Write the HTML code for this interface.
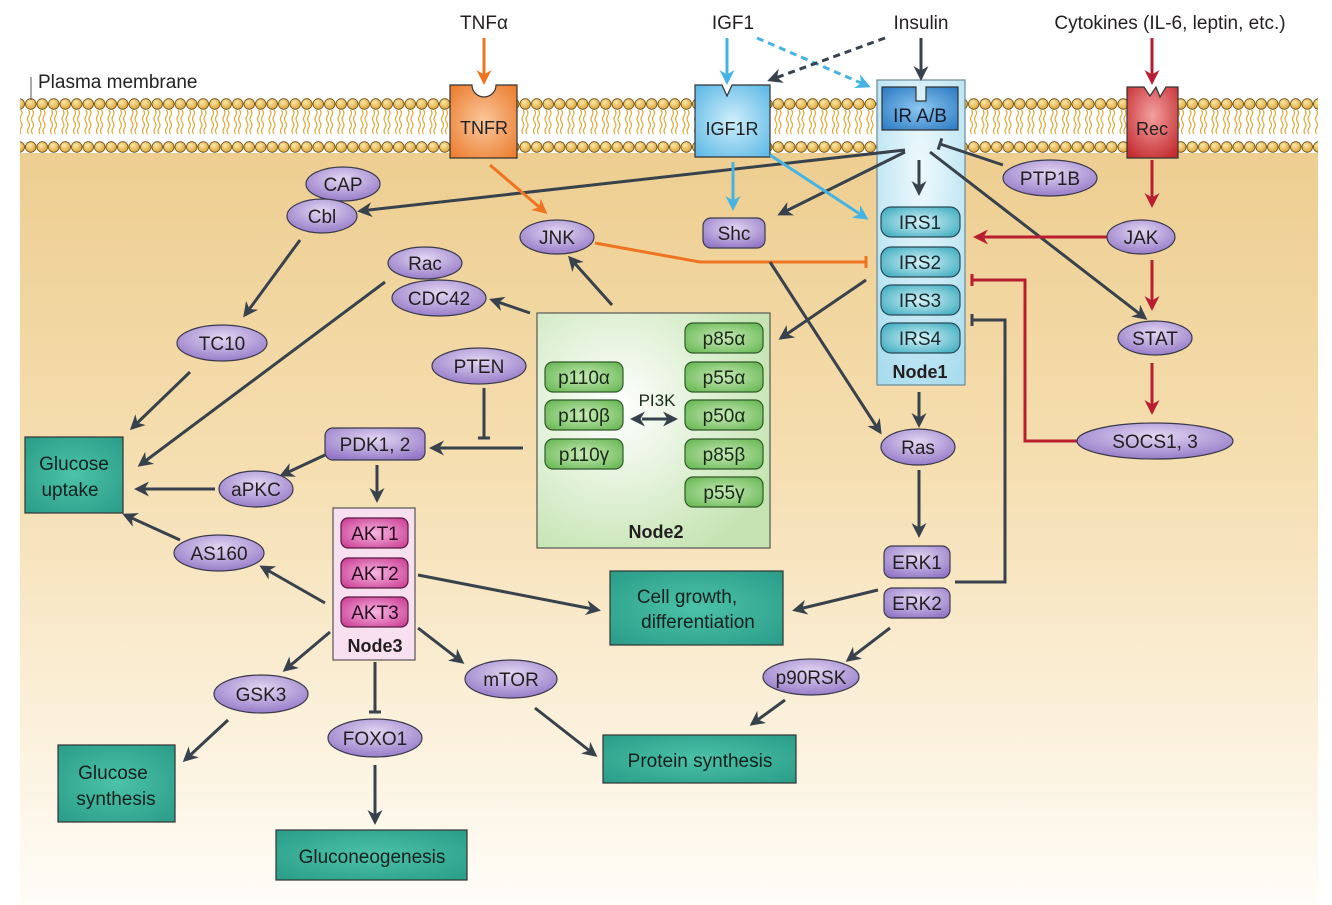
<!DOCTYPE html>
<html><head><meta charset="utf-8"><style>
html,body{margin:0;padding:0;background:#fff}
svg{display:block;font-family:"Liberation Sans","DejaVu Sans",sans-serif}
</style></head><body>
<svg width="1332" height="905" viewBox="0 0 1332 905" xmlns="http://www.w3.org/2000/svg">
<defs>
<linearGradient id="cell" x1="0" y1="0" x2="0" y2="1">
<stop offset="0" stop-color="#eccb8b"/><stop offset="0.45" stop-color="#f5deb0"/><stop offset="1" stop-color="#fffdf8"/></linearGradient>
<radialGradient id="ball" cx="0.4" cy="0.35" r="0.7"><stop offset="0" stop-color="#fde9a8"/><stop offset="1" stop-color="#d9a030"/></radialGradient>
<pattern id="mem" x="25" y="0" width="11.5" height="905" patternUnits="userSpaceOnUse">
<path d="M3.5 110 q2 3 0 6 t0 6 t0 6 t0 6 M7.5 110 q2 3 0 6 t0 6 t0 6 t0 6" fill="none" stroke="#e0a83a" stroke-width="1.2"/>
<circle cx="5.75" cy="104" r="5.3" fill="url(#ball)" stroke="#6a4a10" stroke-width="0.8"/>
<circle cx="5.75" cy="147" r="5.3" fill="url(#ball)" stroke="#6a4a10" stroke-width="0.8"/>
</pattern>
<radialGradient id="purp" cx="0.5" cy="0.35" r="0.7"><stop offset="0" stop-color="#e2d6f2"/><stop offset="1" stop-color="#9276c6"/></radialGradient>
<radialGradient id="teal" cx="0.5" cy="0.5" r="0.7"><stop offset="0" stop-color="#4cc2a8"/><stop offset="1" stop-color="#2a9c88"/></radialGradient>
<radialGradient id="irs" cx="0.5" cy="0.5" r="0.7"><stop offset="0" stop-color="#d6f4f8"/><stop offset="1" stop-color="#2fa4ba"/></radialGradient>
<radialGradient id="grn" cx="0.5" cy="0.5" r="0.7"><stop offset="0" stop-color="#c9eab8"/><stop offset="1" stop-color="#5fb34b"/></radialGradient>
<radialGradient id="n2" cx="0.35" cy="0.4" r="0.7"><stop offset="0" stop-color="#ffffff"/><stop offset="1" stop-color="#c6e4b3"/></radialGradient>
<radialGradient id="n1" cx="0.5" cy="0.3" r="0.8"><stop offset="0" stop-color="#eef9fd"/><stop offset="1" stop-color="#a9dcee"/></radialGradient>
<radialGradient id="akt" cx="0.5" cy="0.5" r="0.7"><stop offset="0" stop-color="#f6b8e0"/><stop offset="1" stop-color="#c8338f"/></radialGradient>
<radialGradient id="org" cx="0.5" cy="0.5" r="0.7"><stop offset="0" stop-color="#fbc79c"/><stop offset="1" stop-color="#ea7a2a"/></radialGradient>
<radialGradient id="blu" cx="0.5" cy="0.5" r="0.7"><stop offset="0" stop-color="#cfeefb"/><stop offset="1" stop-color="#59b6e4"/></radialGradient>
<radialGradient id="red" cx="0.5" cy="0.4" r="0.7"><stop offset="0" stop-color="#f4a0a0"/><stop offset="1" stop-color="#c42b30"/></radialGradient>
<radialGradient id="irab" cx="0.5" cy="0.5" r="0.7"><stop offset="0" stop-color="#8cc8f0"/><stop offset="1" stop-color="#2a78c2"/></radialGradient>
<marker id="ad" viewBox="0 0 10 10" refX="8" refY="5" markerWidth="5" markerHeight="5" orient="auto"><path d="M0 0 L10 5 L0 10 L3 5z" fill="#37424d"/></marker>
<marker id="ao" viewBox="0 0 10 10" refX="8" refY="5" markerWidth="5" markerHeight="5" orient="auto"><path d="M0 0 L10 5 L0 10 L3 5z" fill="#ee7422"/></marker>
<marker id="ab" viewBox="0 0 10 10" refX="8" refY="5" markerWidth="5" markerHeight="5" orient="auto"><path d="M0 0 L10 5 L0 10 L3 5z" fill="#45b4e4"/></marker>
<marker id="ar" viewBox="0 0 10 10" refX="8" refY="5" markerWidth="5" markerHeight="5" orient="auto"><path d="M0 0 L10 5 L0 10 L3 5z" fill="#b81e30"/></marker>
<marker id="ads" viewBox="0 0 10 10" refX="2" refY="5" markerWidth="5" markerHeight="5" orient="auto-start-reverse"><path d="M0 0 L10 5 L0 10 L3 5z" fill="#37424d"/></marker>
<marker id="td" viewBox="0 0 4 12" refX="2" refY="6" markerWidth="4" markerHeight="12" markerUnits="userSpaceOnUse" orient="auto"><rect x="0.5" y="0" width="3" height="12" fill="#37424d"/></marker>
<marker id="to" viewBox="0 0 4 12" refX="2" refY="6" markerWidth="4" markerHeight="12" markerUnits="userSpaceOnUse" orient="auto"><rect x="0.5" y="0" width="3" height="12" fill="#ee7422"/></marker>
<marker id="tr" viewBox="0 0 4 12" refX="2" refY="6" markerWidth="4" markerHeight="12" markerUnits="userSpaceOnUse" orient="auto"><rect x="0.5" y="0" width="3" height="12" fill="#b81e30"/></marker>
</defs>

<rect x="20" y="100" width="1298" height="805" fill="url(#cell)"/>
<rect x="20" y="97" width="1298" height="56" fill="#fff"/>
<rect x="20" y="97" width="1298" height="56" fill="url(#mem)"/>
<line x1="31" y1="77" x2="31" y2="100" stroke="#555" stroke-width="1"/>
<text x="38" y="88" font-size="19" fill="#222">Plasma membrane</text>

<g font-size="19" fill="#231f20" text-anchor="middle">
<text x="484" y="29">TNFα</text>
<text x="733" y="29">IGF1</text>
<text x="921" y="29">Insulin</text>
<text x="1170" y="29">Cytokines (IL-6, leptin, etc.)</text>
</g>

<!-- node boxes -->
<rect x="537" y="313" width="233" height="235" fill="url(#n2)" stroke="#555" stroke-width="1.2"/>
<rect x="877" y="80" width="88" height="305" fill="url(#n1)" stroke="#6a8a99" stroke-width="1.2"/>
<rect x="333" y="508" width="82" height="152" fill="#f8e0f0" stroke="#555" stroke-width="1.2"/>

<!-- receptors -->
<path d="M450 85 H472 a12 12 0 0 0 24 0 H517 V158 H450z" fill="url(#org)" stroke="#333" stroke-width="1.2"/>
<text x="484" y="134" font-size="18" text-anchor="middle" fill="#222">TNFR</text>
<path d="M695 85 H722 L727 96 L732 85 H770 V157 H695z" fill="url(#blu)" stroke="#333" stroke-width="1.2"/>
<text x="732" y="135" font-size="18" text-anchor="middle" fill="#222">IGF1R</text>
<path d="M882 87 H916 V101 H926 V87 H958 V130 H882z" fill="url(#irab)" stroke="#333" stroke-width="1.2"/>
<text x="920" y="122" font-size="19" text-anchor="middle" fill="#1a1a2a">IR A/B</text>
<path d="M1127 87 H1144 L1150 96 L1156 87 L1160 97 L1166 87 H1178 V158 H1127z" fill="url(#red)" stroke="#333" stroke-width="1.2"/>
<text x="1152" y="135" font-size="18" text-anchor="middle" fill="#222">Rec</text>

<!-- arrows -->
<g stroke-width="3" fill="none">
<line x1="484" y1="38" x2="484" y2="82" stroke="#ee7422" marker-end="url(#ao)"/>
<line x1="727" y1="38" x2="727" y2="82" stroke="#45b4e4" marker-end="url(#ab)"/>
<line x1="757" y1="38" x2="868" y2="86" stroke="#45b4e4" stroke-dasharray="7,5" marker-end="url(#ab)"/>
<line x1="921" y1="38" x2="921" y2="78" stroke="#37424d" marker-end="url(#ad)"/>
<line x1="885" y1="38" x2="770" y2="80" stroke="#37424d" stroke-dasharray="7,5" marker-end="url(#ad)"/>
<line x1="1152" y1="38" x2="1152" y2="82" stroke="#b81e30" marker-end="url(#ar)"/>

<line x1="1003" y1="165" x2="940" y2="144" stroke="#37424d" marker-end="url(#td)"/>
<line x1="905" y1="150" x2="360" y2="211" stroke="#37424d" marker-end="url(#ad)"/>
<line x1="905" y1="152" x2="780" y2="214" stroke="#37424d" marker-end="url(#ad)"/>
<line x1="930" y1="152" x2="1145" y2="318" stroke="#37424d" marker-end="url(#ad)"/>
<line x1="919" y1="160" x2="919" y2="193" stroke="#37424d" marker-end="url(#ad)"/>
<line x1="490" y1="165" x2="545" y2="212" stroke="#ee7422" marker-end="url(#ao)"/>
<polyline points="595,243 700,262 866,262" stroke="#ee7422" marker-end="url(#to)"/>
<line x1="733" y1="162" x2="733" y2="208" stroke="#45b4e4" marker-end="url(#ab)"/>
<line x1="770" y1="155" x2="866" y2="218" stroke="#45b4e4" marker-end="url(#ab)"/>
<line x1="1152" y1="160" x2="1152" y2="205" stroke="#b81e30" marker-end="url(#ar)"/>
<line x1="1110" y1="237" x2="976" y2="237" stroke="#b81e30" marker-end="url(#ar)"/>
<line x1="1152" y1="260" x2="1152" y2="308" stroke="#b81e30" marker-end="url(#ar)"/>
<line x1="1152" y1="363" x2="1152" y2="412" stroke="#b81e30" marker-end="url(#ar)"/>
<polyline points="1077,441 1025,441 1025,280 972,280" stroke="#b81e30" marker-end="url(#tr)"/>
<polyline points="955,582 1005,582 1005,320 972,320" stroke="#37424d" marker-end="url(#td)"/>
<line x1="300" y1="240" x2="245" y2="315" stroke="#37424d" marker-end="url(#ad)"/>
<line x1="190" y1="372" x2="132" y2="428" stroke="#37424d" marker-end="url(#ad)"/>
<line x1="385" y1="282" x2="140" y2="465" stroke="#37424d" marker-end="url(#ad)"/>
<line x1="530" y1="313" x2="492" y2="300" stroke="#37424d" marker-end="url(#ad)"/>
<line x1="612" y1="305" x2="570" y2="258" stroke="#37424d" marker-end="url(#ad)"/>
<line x1="866" y1="280" x2="781" y2="338" stroke="#37424d" marker-end="url(#ad)"/>
<line x1="770" y1="262" x2="880" y2="432" stroke="#37424d" marker-end="url(#ad)"/>
<line x1="484" y1="388" x2="484" y2="438" stroke="#37424d" marker-end="url(#td)"/>
<line x1="523" y1="448" x2="432" y2="448" stroke="#37424d" marker-end="url(#ad)"/>
<line x1="215" y1="489" x2="137" y2="489" stroke="#37424d" marker-end="url(#ad)"/>
<line x1="325" y1="455" x2="282" y2="475" stroke="#37424d" marker-end="url(#ad)"/>
<line x1="377" y1="465" x2="377" y2="500" stroke="#37424d" marker-end="url(#ad)"/>
<line x1="325" y1="603" x2="262" y2="567" stroke="#37424d" marker-end="url(#ad)"/>
<line x1="180" y1="540" x2="125" y2="515" stroke="#37424d" marker-end="url(#ad)"/>
<line x1="418" y1="575" x2="598" y2="610" stroke="#37424d" marker-end="url(#ad)"/>
<line x1="919" y1="392" x2="919" y2="425" stroke="#37424d" marker-end="url(#ad)"/>
<line x1="919" y1="470" x2="919" y2="535" stroke="#37424d" marker-end="url(#ad)"/>
<line x1="878" y1="590" x2="795" y2="610" stroke="#37424d" marker-end="url(#ad)"/>
<line x1="890" y1="628" x2="848" y2="660" stroke="#37424d" marker-end="url(#ad)"/>
<line x1="785" y1="700" x2="752" y2="724" stroke="#37424d" marker-end="url(#ad)"/>
<line x1="418" y1="628" x2="462" y2="662" stroke="#37424d" marker-end="url(#ad)"/>
<line x1="535" y1="708" x2="595" y2="755" stroke="#37424d" marker-end="url(#ad)"/>
<line x1="330" y1="632" x2="285" y2="670" stroke="#37424d" marker-end="url(#ad)"/>
<line x1="228" y1="720" x2="185" y2="760" stroke="#37424d" marker-end="url(#ad)"/>
<line x1="375" y1="662" x2="375" y2="712" stroke="#37424d" marker-end="url(#td)"/>
<line x1="375" y1="765" x2="375" y2="822" stroke="#37424d" marker-end="url(#ad)"/>
<line x1="642" y1="419" x2="675" y2="419" stroke="#37424d" marker-start="url(#ads)" marker-end="url(#ad)"/>
</g>

<!-- ellipses -->
<g stroke="#3a3a4a" stroke-width="1.2" fill="url(#purp)">
<ellipse cx="1050" cy="178" rx="47" ry="18"/>
<ellipse cx="343" cy="184" rx="37" ry="17"/>
<ellipse cx="322" cy="216" rx="35" ry="17"/>
<ellipse cx="557" cy="237" rx="37" ry="17"/>
<ellipse cx="1141" cy="237" rx="34" ry="17"/>
<ellipse cx="1155" cy="338" rx="37" ry="17"/>
<ellipse cx="1155" cy="441" rx="78" ry="18"/>
<ellipse cx="425" cy="263" rx="37" ry="16"/>
<ellipse cx="439" cy="298" rx="47" ry="18"/>
<ellipse cx="222" cy="343" rx="45" ry="18"/>
<ellipse cx="479" cy="366" rx="47" ry="18"/>
<ellipse cx="256" cy="489" rx="37" ry="18"/>
<ellipse cx="219" cy="553" rx="45" ry="18"/>
<ellipse cx="918" cy="447" rx="37" ry="18"/>
<ellipse cx="811" cy="677" rx="48" ry="18"/>
<ellipse cx="511" cy="679" rx="46" ry="19"/>
<ellipse cx="261" cy="694" rx="47" ry="19"/>
<ellipse cx="375" cy="738" rx="47" ry="19"/>
<rect x="703" y="218" width="62" height="30" rx="8"/>
<rect x="325" y="428" width="100" height="32" rx="8"/>
<rect x="884" y="546" width="66" height="32" rx="8"/>
<rect x="884" y="588" width="66" height="30" rx="8"/>
</g>
<g font-size="19" fill="#231f20" text-anchor="middle">
<text x="1050" y="185">PTP1B</text>
<text x="343" y="191">CAP</text>
<text x="322" y="223">Cbl</text>
<text x="557" y="244">JNK</text>
<text x="1141" y="244">JAK</text>
<text x="1155" y="345">STAT</text>
<text x="1155" y="448">SOCS1, 3</text>
<text x="425" y="270">Rac</text>
<text x="439" y="305">CDC42</text>
<text x="222" y="350">TC10</text>
<text x="479" y="373">PTEN</text>
<text x="256" y="496">aPKC</text>
<text x="219" y="560">AS160</text>
<text x="918" y="454">Ras</text>
<text x="811" y="684">p90RSK</text>
<text x="511" y="686">mTOR</text>
<text x="261" y="701">GSK3</text>
<text x="375" y="745">FOXO1</text>
<text x="734" y="240">Shc</text>
<text x="375" y="451">PDK1, 2</text>
<text x="917" y="569">ERK1</text>
<text x="917" y="610">ERK2</text>
</g>

<!-- IRS -->
<g stroke="#2a4a55" stroke-width="1.2" fill="url(#irs)">
<rect x="881" y="207" width="79" height="30" rx="10"/>
<rect x="881" y="247" width="79" height="30" rx="10"/>
<rect x="881" y="285" width="79" height="30" rx="10"/>
<rect x="881" y="323" width="79" height="30" rx="10"/>
</g>
<g font-size="19" fill="#1a2a30" text-anchor="middle">
<text x="920" y="229">IRS1</text><text x="920" y="269">IRS2</text><text x="920" y="307">IRS3</text><text x="920" y="345">IRS4</text>
</g>
<text x="920" y="378" font-size="18" font-weight="bold" text-anchor="middle" fill="#231f20">Node1</text>

<!-- Node2 pills -->
<g stroke="#2f5a28" stroke-width="1.2" fill="url(#grn)">
<rect x="545" y="362" width="78" height="30" rx="8"/>
<rect x="545" y="400" width="78" height="30" rx="8"/>
<rect x="545" y="439" width="78" height="30" rx="8"/>
<rect x="685" y="323" width="78" height="30" rx="8"/>
<rect x="685" y="362" width="78" height="30" rx="8"/>
<rect x="685" y="400" width="78" height="30" rx="8"/>
<rect x="685" y="439" width="78" height="30" rx="8"/>
<rect x="685" y="477" width="78" height="30" rx="8"/>
</g>
<g font-size="19" fill="#1a2a18" text-anchor="middle">
<text x="584" y="384">p110α</text><text x="584" y="422">p110β</text><text x="584" y="461">p110γ</text>
<text x="724" y="345">p85α</text><text x="724" y="384">p55α</text><text x="724" y="422">p50α</text><text x="724" y="461">p85β</text><text x="724" y="499">p55γ</text>
<text x="657" y="406" font-size="17">PI3K</text>
</g>
<text x="656" y="538" font-size="18" font-weight="bold" text-anchor="middle" fill="#231f20">Node2</text>

<!-- AKT -->
<g stroke="#5a1a40" stroke-width="1.2" fill="url(#akt)">
<rect x="341" y="518" width="67" height="30" rx="7"/>
<rect x="341" y="558" width="67" height="30" rx="7"/>
<rect x="341" y="597" width="67" height="30" rx="7"/>
</g>
<g font-size="19" fill="#2a0a20" text-anchor="middle">
<text x="375" y="540">AKT1</text><text x="375" y="580">AKT2</text><text x="375" y="619">AKT3</text>
</g>
<text x="375" y="652" font-size="18" font-weight="bold" text-anchor="middle" fill="#231f20">Node3</text>

<!-- outcome boxes -->
<g stroke="#333" stroke-width="1.2" fill="url(#teal)">
<rect x="25" y="437" width="98" height="76"/>
<rect x="610" y="571" width="173" height="74"/>
<rect x="603" y="735" width="193" height="48"/>
<rect x="58" y="745" width="117" height="77"/>
<rect x="276" y="830" width="191" height="50"/>
</g>
<g font-size="19" fill="#10201c" text-anchor="middle">
<text x="74" y="470">Glucose</text><text x="70" y="496">uptake</text>
<text x="687" y="603">Cell growth,</text><text x="698" y="628">differentiation</text>
<text x="700" y="767">Protein synthesis</text>
<text x="113" y="779">Glucose</text><text x="116" y="805">synthesis</text>
<text x="372" y="863">Gluconeogenesis</text>
</g>
</svg>
</body></html>
